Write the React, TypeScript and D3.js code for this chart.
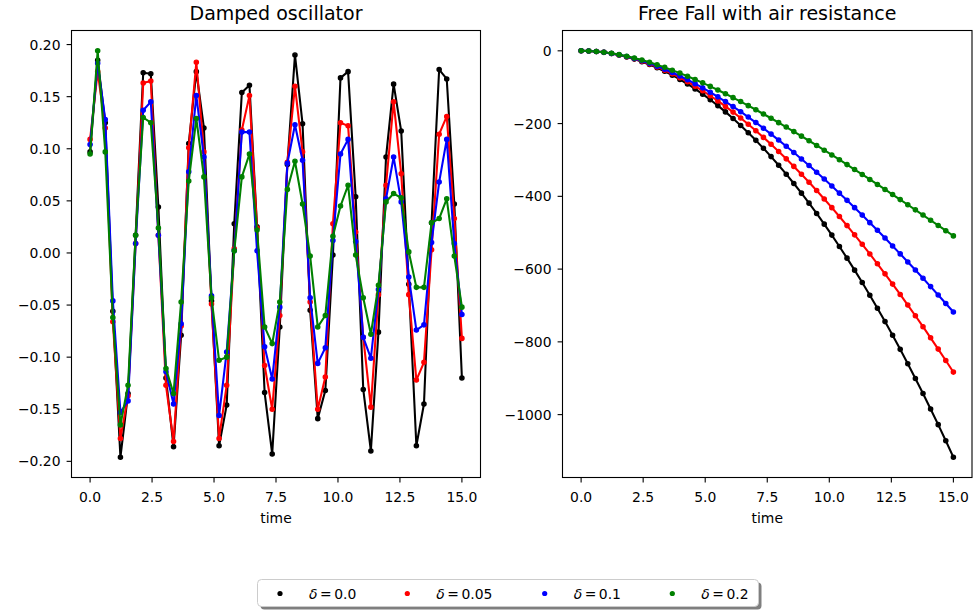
import React from 'react';
import * as d3 from 'd3';

// ---------- data ----------
const time = [
  0, 0.306, 0.612, 0.918, 1.224, 1.531, 1.837, 2.143, 2.449, 2.755,
  3.061, 3.367, 3.673, 3.98, 4.286, 4.592, 4.898, 5.204, 5.51, 5.816,
  6.122, 6.429, 6.735, 7.041, 7.347, 7.653, 7.959, 8.265, 8.571, 8.878,
  9.184, 9.49, 9.796, 10.102, 10.408, 10.714, 11.02, 11.327, 11.633, 11.939,
  12.245, 12.551, 12.857, 13.163, 13.469, 13.776, 14.082, 14.388, 14.694, 15.0,
];

const oscDelta0 = [
  0.097, 0.185, 0.125, -0.056, -0.196, -0.135, 0.017, 0.173, 0.172, 0.044,
  -0.12, -0.186, -0.079, 0.105, 0.174, 0.12, -0.046, -0.185, -0.146, 0.028,
  0.154, 0.161, 0.025, -0.134, -0.193, -0.071, 0.085, 0.19, 0.124, -0.055,
  -0.159, -0.132, -0.002, 0.168, 0.174, 0.054, -0.131, -0.19, -0.076, 0.092,
  0.162, 0.117, -0.03, -0.185, -0.145, 0.029, 0.176, 0.167, 0.047, -0.12,
];
const oscDelta005 = [
  0.109, 0.174, 0.12, -0.066, -0.178, -0.137, 0.009, 0.163, 0.165, 0.017,
  -0.127, -0.181, -0.07, 0.101, 0.183, 0.097, -0.049, -0.178, -0.127, 0.004,
  0.118, 0.151, 0.024, -0.108, -0.15, -0.06, 0.087, 0.16, 0.097, -0.047,
  -0.15, -0.119, 0.028, 0.125, 0.122, 0.02, -0.081, -0.148, -0.04, 0.065,
  0.145, 0.076, -0.04, -0.122, -0.105, 0.003, 0.114, 0.131, 0.033, -0.082,
];
const oscDelta01 = [
  0.104, 0.182, 0.128, -0.046, -0.153, -0.142, 0.009, 0.137, 0.145, 0.017,
  -0.114, -0.145, -0.068, 0.078, 0.151, 0.092, -0.041, -0.156, -0.095, 0.002,
  0.116, 0.116, 0.002, -0.09, -0.121, -0.052, 0.086, 0.123, 0.089, -0.043,
  -0.106, -0.091, 0.012, 0.095, 0.109, 0.011, -0.081, -0.101, -0.035, 0.052,
  0.092, 0.049, -0.023, -0.074, -0.069, 0.01, 0.068, 0.109, 0.009, -0.059,
];
const oscDelta02 = [
  0.095, 0.194, 0.097, -0.062, -0.165, -0.127, 0.017, 0.13, 0.125, 0.024,
  -0.111, -0.135, -0.047, 0.069, 0.129, 0.073, -0.043, -0.103, -0.1, 0.002,
  0.073, 0.095, 0.022, -0.071, -0.087, -0.047, 0.061, 0.088, 0.047, -0.003,
  -0.071, -0.06, 0.016, 0.045, 0.065, -0.002, -0.043, -0.078, -0.031, 0.049,
  0.057, 0.053, 0.001, -0.033, -0.033, 0.029, 0.033, 0.052, -0.003, -0.052,
];

const fallDelta0 = [
  0, -0.5, -1.9, -4.2, -7.4, -11.6, -16.7, -22.8, -29.8, -37.7,
  -46.5, -56.3, -67.0, -78.6, -91.2, -104.7, -119.1, -134.4, -150.7, -167.9,
  -186.1, -205.2, -225.2, -246.1, -268.0, -290.8, -314.5, -339.1, -364.7, -391.2,
  -418.7, -447.1, -476.4, -506.6, -537.8, -569.9, -602.9, -636.9, -671.8, -707.6,
  -744.3, -782.0, -820.6, -860.2, -900.6, -942.0, -984.4, -1027.6, -1071.8, -1117.0,
];
const fallDelta005 = [
  0, -0.5, -1.8, -4.1, -7.3, -11.3, -16.3, -22.0, -28.6, -36.0,
  -44.2, -53.3, -63.1, -73.7, -85.0, -97.1, -109.9, -123.5, -137.8, -152.8,
  -168.5, -184.8, -201.9, -219.6, -238.0, -257.0, -276.6, -296.9, -317.7, -339.2,
  -361.3, -384.0, -407.2, -431.1, -455.4, -480.4, -505.9, -531.9, -558.4, -585.5,
  -613.1, -641.2, -669.7, -698.8, -728.3, -758.3, -788.9, -819.9, -851.3, -883.1,
];
const fallDelta01 = [
  0, -0.5, -1.8, -4.1, -7.2, -11.1, -15.8, -21.3, -27.5, -34.5,
  -42.1, -50.5, -59.5, -69.2, -79.4, -90.3, -101.8, -113.9, -126.5, -139.6,
  -153.3, -167.4, -182.1, -197.2, -212.8, -228.9, -245.3, -262.2, -279.5, -297.2,
  -315.3, -333.7, -352.5, -371.7, -391.2, -411.0, -431.1, -451.6, -472.3, -493.4,
  -514.7, -536.3, -558.1, -580.3, -602.6, -625.2, -648.1, -671.2, -694.4, -718.0,
];
const fallDelta02 = [
  0, -0.5, -1.8, -3.9, -6.9, -10.5, -14.9, -19.9, -25.5, -31.6,
  -38.3, -45.5, -53.2, -61.3, -69.9, -78.8, -88.1, -97.8, -107.8, -118.1,
  -128.7, -139.5, -150.7, -162.0, -173.6, -185.4, -197.4, -209.6, -222.0, -234.5,
  -247.2, -260.1, -273.1, -286.2, -299.4, -312.8, -326.3, -339.8, -353.5, -367.3,
  -381.1, -395.0, -409.0, -423.1, -437.2, -451.4, -465.7, -480.0, -494.4, -508.8,
];

const deltaLabels = ['0.0', '0.05', '0.1', '0.2'];
const seriesColors = ['#000000', '#ff0000', '#0000ff', '#008000'];
const xTickValues = [0, 2.5, 5, 7.5, 10, 12.5, 15];
const oscYTicks = [-0.2, -0.15, -0.1, -0.05, 0, 0.05, 0.1, 0.15, 0.2];
const fallYTicks = [-1000, -800, -600, -400, -200, 0];

const FONT = "'DejaVu Sans', 'Liberation Sans', sans-serif";

type PanelProps = {
  left: number; right: number; top: number; bottom: number;
  series: number[][]; yTicks: number[]; yFormat: (v: number) => string; title: string;
};

function Panel({ left, right, top, bottom, series, yTicks, yFormat, title }: PanelProps) {
  const xExt = d3.extent(time) as [number, number];
  const xPad = (xExt[1] - xExt[0]) * 0.05;
  const x = d3.scaleLinear().domain([xExt[0] - xPad, xExt[1] + xPad]).range([left, right]);
  const all = series.flat();
  const yMin = d3.min(all) as number;
  const yMax = d3.max(all) as number;
  const yPad = (yMax - yMin) * 0.05;
  const y = d3.scaleLinear().domain([yMin - yPad, yMax + yPad]).range([bottom, top]);
  const line = d3.line<number>().x((_, i) => x(time[i])).y((d) => y(d));
  const xFmt = d3.format('.1f');
  const tickLen = 4.9;
  const cx = (left + right) / 2;
  return (
    <g>
      <rect x={left} y={top} width={right - left} height={bottom - top} fill="#ffffff" />
      {series.map((s, si) => (
        <g key={si}>
          <path d={line(s) || ''} fill="none" stroke={seriesColors[si]} strokeWidth={2.08} strokeLinejoin="round" strokeLinecap="square" />
          {s.map((v, i) => (
            <circle key={i} cx={x(time[i])} cy={y(v)} r={2.1} fill={seriesColors[si]} stroke={seriesColors[si]} strokeWidth={1.39} />
          ))}
        </g>
      ))}
      <rect x={left} y={top} width={right - left} height={bottom - top} fill="none" stroke="#000" strokeWidth={1.1} />
      {xTickValues.map((t) => (
        <g key={'x' + t}>
          <line x1={x(t)} x2={x(t)} y1={bottom} y2={bottom + tickLen} stroke="#000" strokeWidth={1.1} />
          <text x={x(t)} y={501.5} textAnchor="middle" fontSize={13.9} fontFamily={FONT} fill="#000">{xFmt(t)}</text>
        </g>
      ))}
      {yTicks.map((t) => (
        <g key={'y' + t}>
          <line x1={left - tickLen} x2={left} y1={y(t)} y2={y(t)} stroke="#000" strokeWidth={1.1} />
          <text x={left - 11} y={y(t)} dy="0.36em" textAnchor="end" fontSize={13.9} fontFamily={FONT} fill="#000">{yFormat(t)}</text>
        </g>
      ))}
      <text x={cx} y={523} textAnchor="middle" fontSize={13.9} fontFamily={FONT} fill="#000">time</text>
      <text x={cx} y={20} textAnchor="middle" fontSize={19} fontFamily={FONT} fill="#000">{title}</text>
    </g>
  );
}

function Legend() {
  const lx = 257.5, ly = 579.5, lw = 501, lh = 27;
  const entryX = [280, 407.3, 544.7, 672.3];
  const textGap = 29;
  return (
    <g>
      <rect x={lx + 3} y={ly + 3} width={lw} height={lh} rx={4} fill="#000" opacity={0.5} />
      <rect x={lx} y={ly} width={lw} height={lh} rx={4} fill="#fff" stroke="#cccccc" strokeWidth={1} />
      {deltaLabels.map((lab, i) => (
        <g key={lab}>
          <circle cx={entryX[i]} cy={ly + 14} r={2.6} fill={seriesColors[i]} />
          <text x={entryX[i] + textGap} y={ly + 19} fontSize={13.9} fontFamily={FONT} fill="#000">
            <tspan fontStyle="italic">δ</tspan>
            <tspan dx={2.5}>=</tspan>
            <tspan dx={2.5}>{lab}</tspan>
          </text>
        </g>
      ))}
    </g>
  );
}

export default function App() {
  const oscFmt = d3.format('.2f');
  const fallFmt = d3.format('d');
  return (
    <svg
      width={976}
      height={612}
      viewBox="0 0 976 612"
      style={{ position: 'absolute', left: 0, top: 0, background: '#fff' }}
    >
      <rect x={0} y={0} width={976} height={612} fill="#fff" />
      <Panel
        left={71.5} right={480.5} top={30.5} bottom={477.5}
        series={[oscDelta0, oscDelta005, oscDelta01, oscDelta02]}
        yTicks={oscYTicks} yFormat={oscFmt} title="Damped oscillator"
      />
      <Panel
        left={562.5} right={972} top={30.5} bottom={477.5}
        series={[fallDelta0, fallDelta005, fallDelta01, fallDelta02]}
        yTicks={fallYTicks} yFormat={fallFmt} title="Free Fall with air resistance"
      />
      <Legend />
    </svg>
  );
}
